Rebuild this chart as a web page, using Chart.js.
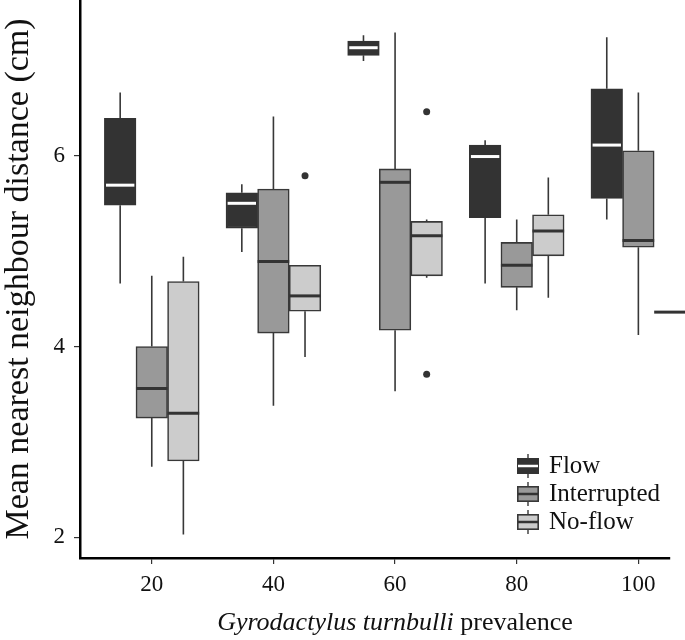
<!DOCTYPE html>
<html>
<head>
<meta charset="utf-8">
<script src="https://cdn.jsdelivr.net/npm/chart.js@4.4.1/dist/chart.umd.min.js"></script>
<style>
  html, body { margin: 0; padding: 0; background: #fff; }
</style>
</head>
<body>
<canvas id="c" width="685" height="640"></canvas>
<script>
// Boxplots of mean nearest neighbour distance by parasite prevalence and flow treatment.
const PREVALENCE = [20, 40, 60, 80, 100];
const GROUPS = ["Flow", "Interrupted", "No-flow"];
const Y_TICKS = [2, 4, 6];

// per prevalence: [lower whisker, q1, median, q3, upper whisker]
const FLOW_STATS = [
  [4.66, 5.48, 5.69, 6.39, 6.66],
  [4.99, 5.24, 5.50, 5.61, 5.70],
  [6.99, 7.05, 7.13, 7.20, 7.26],
  [4.66, 5.35, 5.99, 6.11, 6.16],
  [5.33, 5.55, 6.11, 6.70, 7.24]
];
const INTERRUPTED_STATS = [
  [2.74, 3.25, 3.56, 4.00, 4.74],
  [3.38, 4.14, 4.89, 5.65, 6.41],
  [3.53, 4.17, 5.72, 5.86, 7.29],
  [4.38, 4.62, 4.85, 5.09, 5.33],
  [4.12, 5.04, 5.11, 6.05, 6.66]
];
const NOFLOW_STATS = [
  [2.03, 2.80, 3.30, 4.68, 4.94],
  [3.89, 4.37, 4.53, 4.85, 4.85],
  [4.72, 4.74, 5.16, 5.31, 5.33],
  [4.51, 4.95, 5.21, 5.38, 5.77],
  [4.36, 4.36, 4.36, 4.36, 4.36]
];
const FLOW_OUTLIERS = [[], [], [], [], []];
const INTERRUPTED_OUTLIERS = [[], [], [], [], []];
const NOFLOW_OUTLIERS = [[], [5.79], [6.46, 3.71], [], []];

const SERIF = "'Liberation Serif', 'DejaVu Serif', serif";
const EDGE = "#383838";

function makeSet(label, stats, outliers, fill, border, median) {
  return {
    label,
    data: PREVALENCE.map((p, i) => ({ x: p, y: [stats[i][1], stats[i][3]] })),
    stats, outliers, medianColor: median,
    backgroundColor: fill,
    borderColor: border,
    borderWidth: 1.6,
    borderSkipped: false,
    clip: false
  };
}

// whiskers, medians and outlier dots on top of the floating bars
const boxPlot = {
  id: "boxPlot",
  afterDatasetsDraw(chart) {
    const ctx = chart.ctx, y = chart.scales.y;
    chart.data.datasets.forEach((ds, di) => {
      chart.getDatasetMeta(di).data.forEach((bar, i) => {
        const [lo, q1, med, q3, hi] = ds.stats[i];
        const half = bar.width / 2;
        ctx.save();
        ctx.strokeStyle = EDGE;
        ctx.lineWidth = 1.6;
        ctx.beginPath();
        ctx.moveTo(bar.x, y.getPixelForValue(hi));
        ctx.lineTo(bar.x, y.getPixelForValue(q3));
        ctx.moveTo(bar.x, y.getPixelForValue(q1));
        ctx.lineTo(bar.x, y.getPixelForValue(lo));
        ctx.stroke();
        const ym = y.getPixelForValue(med);
        const inset = ds.medianColor === "#ffffff" ? 1.6 : 0;
        ctx.strokeStyle = ds.medianColor;
        ctx.lineWidth = 3;
        ctx.beginPath();
        ctx.moveTo(bar.x - half + inset, ym);
        ctx.lineTo(bar.x + half - inset, ym);
        ctx.stroke();
        ctx.fillStyle = "#333";
        ds.outliers[i].forEach(v => {
          ctx.beginPath();
          ctx.arc(bar.x, y.getPixelForValue(v), 3.5, 0, Math.PI * 2);
          ctx.fill();
        });
        ctx.restore();
      });
    });
  }
};

// legend with mini boxplot keys and the mixed italic x title
const decorations = {
  id: "decorations",
  afterDraw(chart) {
    const ctx = chart.ctx;
    ctx.save();
    chart.data.datasets.forEach((ds, i) => {
      const cy = 466 + i * 28;
      const x0 = 517, w = 22, h = 16;
      ctx.strokeStyle = EDGE;
      ctx.lineWidth = 1.4;
      ctx.beginPath();
      ctx.moveTo(x0 + w / 2, cy - h / 2 - 4);
      ctx.lineTo(x0 + w / 2, cy + h / 2 + 4);
      ctx.stroke();
      ctx.fillStyle = ds.backgroundColor;
      ctx.fillRect(x0, cy - h / 2, w, h);
      ctx.strokeStyle = ds.borderColor;
      ctx.lineWidth = 1.6;
      ctx.strokeRect(x0 + 0.8, cy - h / 2 + 0.8, w - 1.6, h - 1.6);
      ctx.strokeStyle = ds.medianColor;
      ctx.lineWidth = 2.5;
      ctx.beginPath();
      ctx.moveTo(x0 + 1, cy);
      ctx.lineTo(x0 + w - 1, cy);
      ctx.stroke();
      ctx.fillStyle = "#111";
      ctx.font = "25px " + SERIF;
      ctx.textAlign = "left";
      ctx.textBaseline = "middle";
      ctx.fillText(ds.label, 549, cy);
    });

    const italic = "Gyrodactylus turnbulli", rest = " prevalence";
    ctx.font = "italic 26px " + SERIF;
    const w1 = ctx.measureText(italic).width;
    ctx.font = "26px " + SERIF;
    const w2 = ctx.measureText(rest).width;
    const x = 395 - (w1 + w2) / 2;
    ctx.textAlign = "left";
    ctx.textBaseline = "middle";
    ctx.fillStyle = "#111";
    ctx.font = "italic 26px " + SERIF;
    ctx.fillText(italic, x, 623);
    ctx.font = "26px " + SERIF;
    ctx.fillText(rest, x + w1, 623);
    ctx.restore();
  }
};

new Chart(document.getElementById("c"), {
  type: "bar",
  data: {
    datasets: [
      makeSet(GROUPS[0], FLOW_STATS, FLOW_OUTLIERS, "#333333", "#333333", "#ffffff"),
      makeSet(GROUPS[1], INTERRUPTED_STATS, INTERRUPTED_OUTLIERS, "#999999", EDGE, "#333333"),
      makeSet(GROUPS[2], NOFLOW_STATS, NOFLOW_OUTLIERS, "#cccccc", EDGE, "#333333")
    ]
  },
  options: {
    responsive: false,
    animation: false,
    barThickness: 31.6,
    layout: { padding: { left: 0, right: 15, top: 0, bottom: 0 } },
    plugins: { legend: { display: false }, tooltip: { enabled: false } },
    scales: {
      x: {
        type: "linear", min: 8.2, max: 105.2, offset: false,
        afterBuildTicks: s => { s.ticks = PREVALENCE.map(v => ({ value: v })); },
        afterFit: s => { s.height = 82; s.paddingLeft = 0; s.paddingRight = 0; },
        grid: { display: true, offset: false, drawOnChartArea: false, tickLength: 6, color: "#333", lineWidth: 1.2 },
        border: { display: true, color: "#000", width: 2.5 },
        ticks: { color: "#111", padding: 7, font: { family: SERIF, size: 23 } }
      },
      y: {
        min: 1.784, max: 7.63,
        afterBuildTicks: s => { s.ticks = Y_TICKS.map(v => ({ value: v })); },
        afterFit: s => { s.width = 80; s.paddingTop = 0; s.paddingBottom = 0; },
        grid: { display: true, drawOnChartArea: false, tickLength: 6, color: "#333", lineWidth: 1.2 },
        border: { display: true, color: "#000", width: 2.5 },
        ticks: { color: "#111", padding: 9, font: { family: SERIF, size: 23 } },
        title: {
          display: true, text: "Mean nearest neighbour distance (cm)", color: "#111",
          padding: { top: 2, bottom: 0 },
          font: { family: SERIF, size: 34, lineHeight: 1 }
        }
      }
    }
  },
  plugins: [boxPlot, decorations]
});
</script>
</body>
</html>
